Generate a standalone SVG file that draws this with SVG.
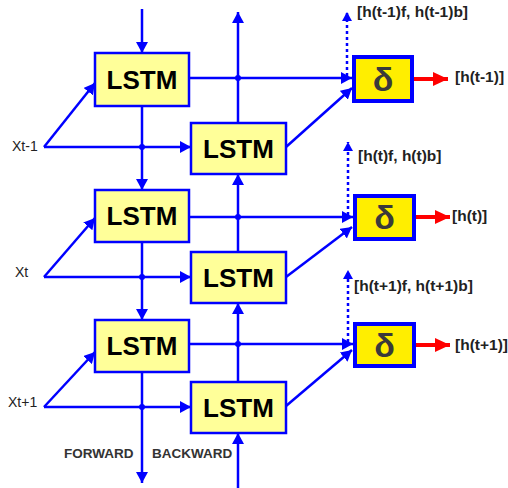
<svg xmlns="http://www.w3.org/2000/svg" width="508" height="488" viewBox="0 0 508 488">
<style>
.ln{stroke:#0000FF;stroke-width:2.5;fill:none}
.dot{stroke:#0000FF;stroke-width:2.5;fill:none;stroke-dasharray:3,3}
.red{stroke:#FF0000;stroke-width:4;fill:none}
.box{fill:#FFFF99;stroke:#0000FF;stroke-width:2.5}
.dbox{fill:#FFEE00;stroke:#0000FF;stroke-width:4}
.lstm{font-family:"Liberation Sans",Arial,sans-serif;font-weight:bold;font-size:26px;fill:#000;text-anchor:middle}
.delta{font-family:"Liberation Sans",Arial,sans-serif;font-weight:bold;font-size:34px;fill:#3a3a3a;text-anchor:middle}
.lab{font-family:"Liberation Sans",Arial,sans-serif;font-weight:bold;font-size:15.5px;fill:#222}
.x{font-family:"Liberation Sans",Arial,sans-serif;font-size:14px;fill:#222}
.dir{font-family:"Liberation Sans",Arial,sans-serif;font-weight:bold;font-size:13.5px;fill:#333}
.jn{fill:#0000FF}
</style>
<defs>
<marker id="a" markerUnits="userSpaceOnUse" markerWidth="12" markerHeight="12" refX="11" refY="6" orient="auto"><path d="M0,0 L11,6 L0,12 z" fill="#0000FF"/></marker>
<marker id="s" markerUnits="userSpaceOnUse" markerWidth="10" markerHeight="10" refX="9" refY="5" orient="auto"><path d="M0,0 L9,5 L0,10 z" fill="#0000FF"/></marker>
<marker id="r" markerUnits="userSpaceOnUse" markerWidth="16" markerHeight="14" refX="15" refY="7" orient="auto"><path d="M0,0 L15,7 L0,14 z" fill="#FF0000"/></marker>
</defs>
<g id="connectors">
<path class="ln" d="M142,9 L142,53" marker-end="url(#a)"/>
<path class="ln" d="M142,106 L142,190" marker-end="url(#a)"/>
<path class="ln" d="M142,242 L142,320" marker-end="url(#a)"/>
<path class="ln" d="M142,372 L142,483" marker-end="url(#a)"/>
<path class="ln" d="M238,488 L238,433" marker-end="url(#a)"/>
<path class="ln" d="M238,382 L238,303" marker-end="url(#a)"/>
<path class="ln" d="M238,252 L238,174" marker-end="url(#a)"/>
<path class="ln" d="M238,123 L238,12" marker-end="url(#a)"/>
<path class="ln" d="M189,78 L352,78" marker-end="url(#a)"/>
<path class="ln" d="M189,217 L353,217" marker-end="url(#a)"/>
<path class="ln" d="M189,344 L353,344" marker-end="url(#a)"/>
<path class="ln" d="M286,147 L352,88" marker-end="url(#a)"/>
<path class="ln" d="M286,277 L352,227" marker-end="url(#a)"/>
<path class="ln" d="M286,406 L352,350" marker-end="url(#a)"/>
<path class="ln" d="M44,147 L95,83" marker-end="url(#a)"/>
<path class="ln" d="M44,147 L191,147" marker-end="url(#a)"/>
<path class="ln" d="M44,277 L95,218" marker-end="url(#a)"/>
<path class="ln" d="M44,277 L191,277" marker-end="url(#a)"/>
<path class="ln" d="M44,407 L95,352" marker-end="url(#a)"/>
<path class="ln" d="M44,407 L191,407" marker-end="url(#a)"/>
<path class="dot" d="M347,76 L347,12" marker-end="url(#s)"/>
<path class="dot" d="M348,215 L348,142" marker-end="url(#s)"/>
<path class="dot" d="M348,342 L348,270" marker-end="url(#s)"/>
<path class="red" d="M414,79 L448,79" marker-end="url(#r)"/>
<path class="red" d="M416,217 L450,217" marker-end="url(#r)"/>
<path class="red" d="M416,345 L450,345" marker-end="url(#r)"/>
<circle class="jn" cx="142" cy="147" r="3"/>
<circle class="jn" cx="142" cy="277" r="3"/>
<circle class="jn" cx="142" cy="407" r="3"/>
<circle class="jn" cx="238" cy="78" r="3"/>
<circle class="jn" cx="238" cy="217" r="3"/>
<circle class="jn" cx="238" cy="344" r="3"/>
</g>
<g id="f1"><rect class="box" x="95" y="53" width="94" height="53"/><text class="lstm" x="142" y="89">LSTM</text></g>
<g id="f2"><rect class="box" x="95" y="190" width="94" height="52"/><text class="lstm" x="142" y="225">LSTM</text></g>
<g id="f3"><rect class="box" x="95" y="320" width="94" height="52"/><text class="lstm" x="142" y="355">LSTM</text></g>
<g id="b1"><rect class="box" x="191" y="123" width="95" height="51"/><text class="lstm" x="238.5" y="158">LSTM</text></g>
<g id="b2"><rect class="box" x="191" y="252" width="95" height="51"/><text class="lstm" x="238.5" y="287">LSTM</text></g>
<g id="b3"><rect class="box" x="191" y="382" width="95" height="51"/><text class="lstm" x="238.5" y="417">LSTM</text></g>
<g id="d1"><rect class="dbox" x="354" y="57" width="58" height="44"/><text class="delta" x="383" y="91">δ</text></g>
<g id="d2"><rect class="dbox" x="355" y="196" width="59" height="43"/><text class="delta" x="384.5" y="229">δ</text></g>
<g id="d3"><rect class="dbox" x="355" y="324" width="59" height="42"/><text class="delta" x="384.5" y="357">δ</text></g>
<g id="labels">
<text class="lab" x="357" y="17">[h(t-1)f, h(t-1)b]</text>
<text class="lab" x="358" y="161">[h(t)f, h(t)b]</text>
<text class="lab" x="354" y="291">[h(t+1)f, h(t+1)b]</text>
<text class="lab" x="455" y="82">[h(t-1)]</text>
<text class="lab" x="452" y="221">[h(t)]</text>
<text class="lab" x="455" y="350">[h(t+1)]</text>
<text class="x" x="12" y="151">Xt-1</text>
<text class="x" x="15" y="277">Xt</text>
<text class="x" x="8" y="407">Xt+1</text>
<text class="dir" x="64" y="458">FORWARD</text>
<text class="dir" x="152" y="458">BACKWARD</text>
</g>
</svg>
